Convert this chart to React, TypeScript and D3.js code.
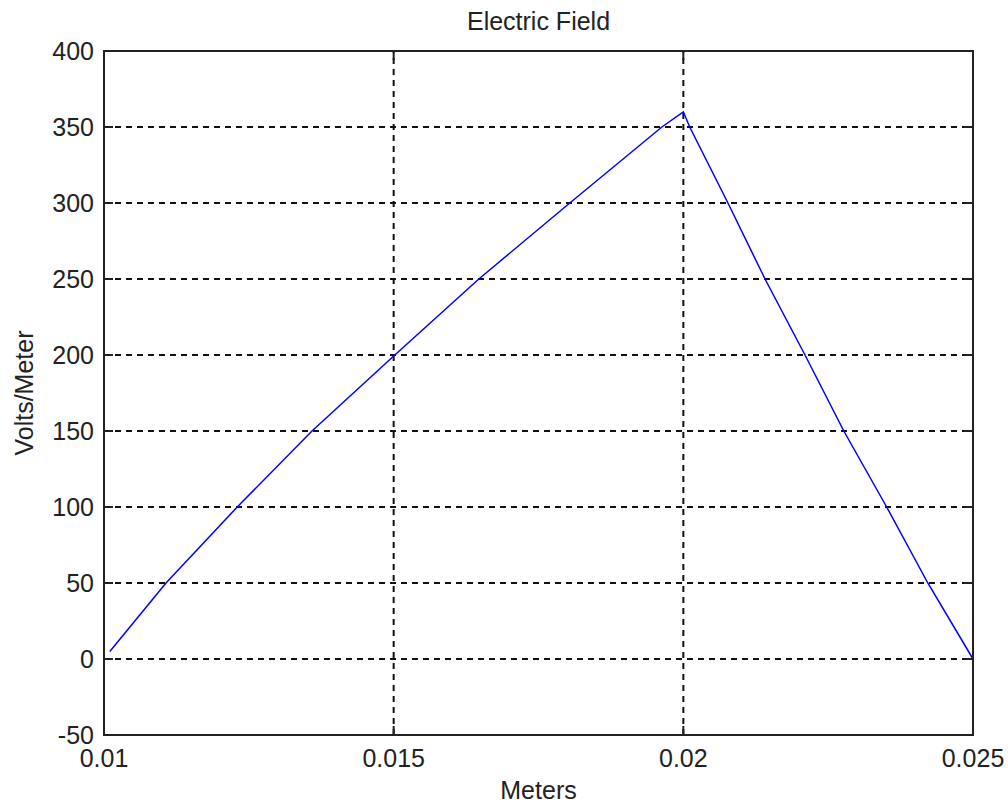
import React, { useRef, useEffect } from 'react';
import * as d3 from 'd3';

// Field values
const meters = [0.0101, 0.01107, 0.0123, 0.01359, 0.01502, 0.01647, 0.01804, 0.01963, 0.02, 0.02011, 0.02077, 0.02141, 0.0221, 0.02277, 0.02351, 0.02422, 0.025];
const voltsPerMeter = [5, 50, 100, 150, 200, 250, 300, 350, 360, 350, 300, 250, 200, 150, 100, 50, 0];

const xTicks = [0.01, 0.015, 0.02, 0.025];
const xTickLabels = ['0.01', '0.015', '0.02', '0.025'];
const yTicks = [-50, 0, 50, 100, 150, 200, 250, 300, 350, 400];

const App = () => {
  const svgRef = useRef<SVGSVGElement | null>(null);
  const width = 1008;
  const height = 806;

  useEffect(() => {
    if (!svgRef.current) return;
    const svg = d3.select(svgRef.current);
    svg.selectAll('*').remove();

    const margin = { top: 51, right: 35, bottom: 71, left: 104 };
    const x = d3.scaleLinear().domain([0.01, 0.025]).range([margin.left, width - margin.right]);
    const y = d3.scaleLinear().domain([-50, 400]).range([height - margin.bottom, margin.top]);
    const [x0, x1] = x.range();
    const [y0, y1] = y.range();
    const font = '"Liberation Sans", Arial, sans-serif';
    const tickLen = 9;

    svg.append('rect').attr('width', width).attr('height', height).attr('fill', '#fff');

    // dashed grid
    const grid = svg.append('g').attr('stroke', '#111').attr('stroke-width', 2).attr('stroke-dasharray', '6,5');
    xTicks.slice(1, -1).forEach(t => {
      grid.append('line').attr('x1', x(t)).attr('x2', x(t)).attr('y1', y0).attr('y2', y1);
    });
    yTicks.slice(1, -1).forEach(t => {
      grid.append('line').attr('x1', x0).attr('x2', x1).attr('y1', y(t)).attr('y2', y(t));
    });

    // tick marks on all four sides
    const ticks = svg.append('g').attr('stroke', '#222').attr('stroke-width', 2);
    xTicks.forEach(t => {
      ticks.append('line').attr('x1', x(t)).attr('x2', x(t)).attr('y1', y0).attr('y2', y0 - tickLen);
      ticks.append('line').attr('x1', x(t)).attr('x2', x(t)).attr('y1', y1).attr('y2', y1 + tickLen);
    });
    yTicks.forEach(t => {
      ticks.append('line').attr('x1', x0).attr('x2', x0 + tickLen).attr('y1', y(t)).attr('y2', y(t));
      ticks.append('line').attr('x1', x1).attr('x2', x1 - tickLen).attr('y1', y(t)).attr('y2', y(t));
    });

    // data line
    const line = d3.line<number>()
      .x((d, i) => x(meters[i]))
      .y(d => y(d));
    svg.append('path')
      .datum(voltsPerMeter)
      .attr('d', line)
      .attr('fill', 'none')
      .attr('stroke', '#0000ff')
      .attr('stroke-width', 1.5);

    // axes box
    svg.append('rect')
      .attr('x', x0).attr('y', y1)
      .attr('width', x1 - x0).attr('height', y0 - y1)
      .attr('fill', 'none')
      .attr('stroke', '#222')
      .attr('stroke-width', 2);

    // tick labels
    xTicks.forEach((t, i) => {
      svg.append('text')
        .attr('x', x(t)).attr('y', y0 + 32)
        .attr('text-anchor', 'middle')
        .attr('font-family', font).attr('font-size', 25).attr('fill', '#222')
        .text(xTickLabels[i]);
    });
    yTicks.forEach(t => {
      svg.append('text')
        .attr('x', x0 - 10).attr('y', y(t) + 9)
        .attr('text-anchor', 'end')
        .attr('font-family', font).attr('font-size', 25).attr('fill', '#222')
        .text(t);
    });

    // titles
    svg.append('text')
      .attr('x', (x0 + x1) / 2).attr('y', 30)
      .attr('text-anchor', 'middle')
      .attr('font-family', font).attr('font-size', 25).attr('fill', '#222')
      .text('Electric Field');
    svg.append('text')
      .attr('x', (x0 + x1) / 2).attr('y', 799)
      .attr('text-anchor', 'middle')
      .attr('font-family', font).attr('font-size', 25).attr('fill', '#222')
      .text('Meters');
    svg.append('text')
      .attr('transform', `translate(33, ${(y0 + y1) / 2}) rotate(-90)`)
      .attr('text-anchor', 'middle')
      .attr('font-family', font).attr('font-size', 25).attr('fill', '#222')
      .text('Volts/Meter');
  }, []);

  return (
    <svg
      ref={svgRef}
      width={width}
      height={height}
      style={{ position: 'absolute', left: 0, top: 0, display: 'block' }}
    ></svg>
  );
};

export default App;
